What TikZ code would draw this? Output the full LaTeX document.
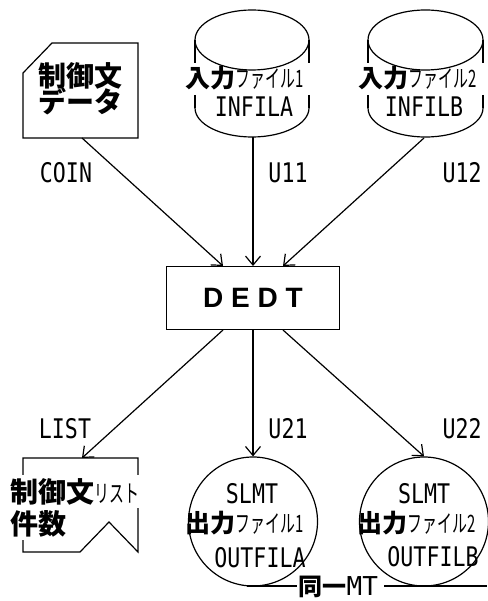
\documentclass[tikz,border=0pt]{standalone}
\usepackage{fontspec}
\usetikzlibrary{arrows.meta}
\newfontfamily\jp{Noto Sans CJK JP}
\newfontfamily\jpn{Noto Sans CJK JP}[FakeStretch=0.62]
\newfontfamily\lat{DejaVu Sans Mono}[FakeStretch=0.8]
\newfontfamily\latw{DejaVu Sans Mono}
\newfontfamily\arb{Liberation Sans}
\newcommand{\smk}[1]{{\jpn\mdseries\fontsize{24}{24}\selectfont #1}}
\begin{document}
\begin{tikzpicture}[x=1pt,y=-1pt,line width=1.2pt,
  arr/.style={-{Straight Barb[length=9pt,width=15pt]}},
  lbl/.style={font=\lat\fontsize{27}{27}\selectfont,inner sep=0pt},
  bigjp/.style={font=\jp\bfseries\fontsize{28}{28}\selectfont,inner sep=0pt},
  mixjp/.style={font=\jp\bfseries\fontsize{25}{25}\selectfont,inner sep=0pt},
  procbox/.style={draw,minimum width=172.6pt,minimum height=63.3pt,inner sep=0pt,
    font=\arb\bfseries\fontsize{28}{28}\selectfont},
  outfile/.style={draw,circle,minimum size=129pt,inner sep=0pt}]
\useasboundingbox (0,0) rectangle (487,601);

% control data (top-left card)
\draw (23,73) -- (52,43) -- (138,43) -- (138,138) -- (23,138) -- cycle;
\node[bigjp] (cd1) at (80,76) {制御文};
\node[bigjp] (cd2) at (80,101) {データ};
\coordinate (cdout) at (82,138);

% input file 1 (cylinder)
\draw (195,40) -- (195,63) (195,95) -- (195,108);
\draw (309,40) -- (309,63) (309,95) -- (309,108);
\draw (195,108) arc[start angle=180,end angle=360,x radius=57pt,y radius=29pt];
\node[mixjp,anchor=west] (if1) at (185,78) {入力\smk{ファイル1}};
\draw (252,40) ellipse [x radius=57pt,y radius=30pt];
\node[lbl] (if1n) at (254,107) {INFILA};
\coordinate (if1out) at (253,137);

% input file 2 (cylinder)
\draw (368,40) -- (368,63) (368,95) -- (368,108);
\draw (483,40) -- (483,63) (483,95) -- (483,108);
\draw (368,108) arc[start angle=180,end angle=360,x radius=57.5pt,y radius=29pt];
\node[mixjp,anchor=west] (if2) at (358,78) {入力\smk{ファイル2}};
\draw (425.5,40) ellipse [x radius=57.5pt,y radius=30pt];
\node[lbl] (if2n) at (424,107) {INFILB};
\coordinate (if2out) at (424,138);

% central process
\node[procbox] (dedt) at (253,298) {D E D T};
\coordinate (t1) at (223,266);
\coordinate (t2) at (253,266);
\coordinate (t3) at (283,266);
\coordinate (b1) at (223,330);
\coordinate (b2) at (253,330);
\coordinate (b3) at (283,330);

\draw[arr] (cdout) -- (t1);
\draw[arr] (if1out) -- (t2);
\draw[arr] (if2out) -- (t3);
\node[lbl] (lcoin) at (66,173) {COIN};
\node[lbl] (lu11) at (288,173) {U11};
\node[lbl] (lu12) at (462,173) {U12};

% list document (bottom-left)
\draw (23,458) -- (138,458) -- (138,552) -- (109,522) -- (80,552) -- (23,552) -- cycle;
\node[bigjp,anchor=west,fill=white,inner ysep=3pt] (ld1) at (10,491.5) {制御文\smk{リスト}};
\node[bigjp,anchor=west,fill=white,inner ysep=3pt] (ld2) at (10,523.5) {件数};
\coordinate (ldin) at (82,458);

% output files
\node[outfile] (of1) at (253,521.5) {};
\node[outfile] (of2) at (424,521.5) {};
\node[lbl] (of1a) at (252,494) {SLMT};
\node[mixjp,anchor=west] (of1b) at (185,523) {出力\smk{ファイル1}};
\node[lbl] (of1c) at (260,558) {OUTFILA};
\node[lbl] (of2a) at (424,494) {SLMT};
\node[mixjp,anchor=west] (of2b) at (357,523) {出力\smk{ファイル2}};
\node[lbl] (of2c) at (433,557) {OUTFILB};

\draw[arr] (b1) -- (ldin);
\draw[arr] (b2) -- (of1.north);
\draw[arr] (b3) -- (of2.north);
\node[lbl] (llist) at (65,429) {LIST};
\node[lbl] (lu21) at (288,429) {U21};
\node[lbl] (lu22) at (462,429) {U22};

% same MT line
\coordinate (mtl) at (247,586);
\coordinate (mtl2) at (297,586);
\coordinate (mtr2) at (384,586);
\coordinate (mtr) at (487,586);
\draw (mtl) -- (mtl2) (mtr2) -- (mtr);
\node[inner sep=0pt,anchor=west] (same) at (298,587)
  {{\jp\bfseries\fontsize{24}{24}\selectfont 同一}{\latw\fontsize{26}{26}\selectfont MT}};
\end{tikzpicture}
\end{document}
